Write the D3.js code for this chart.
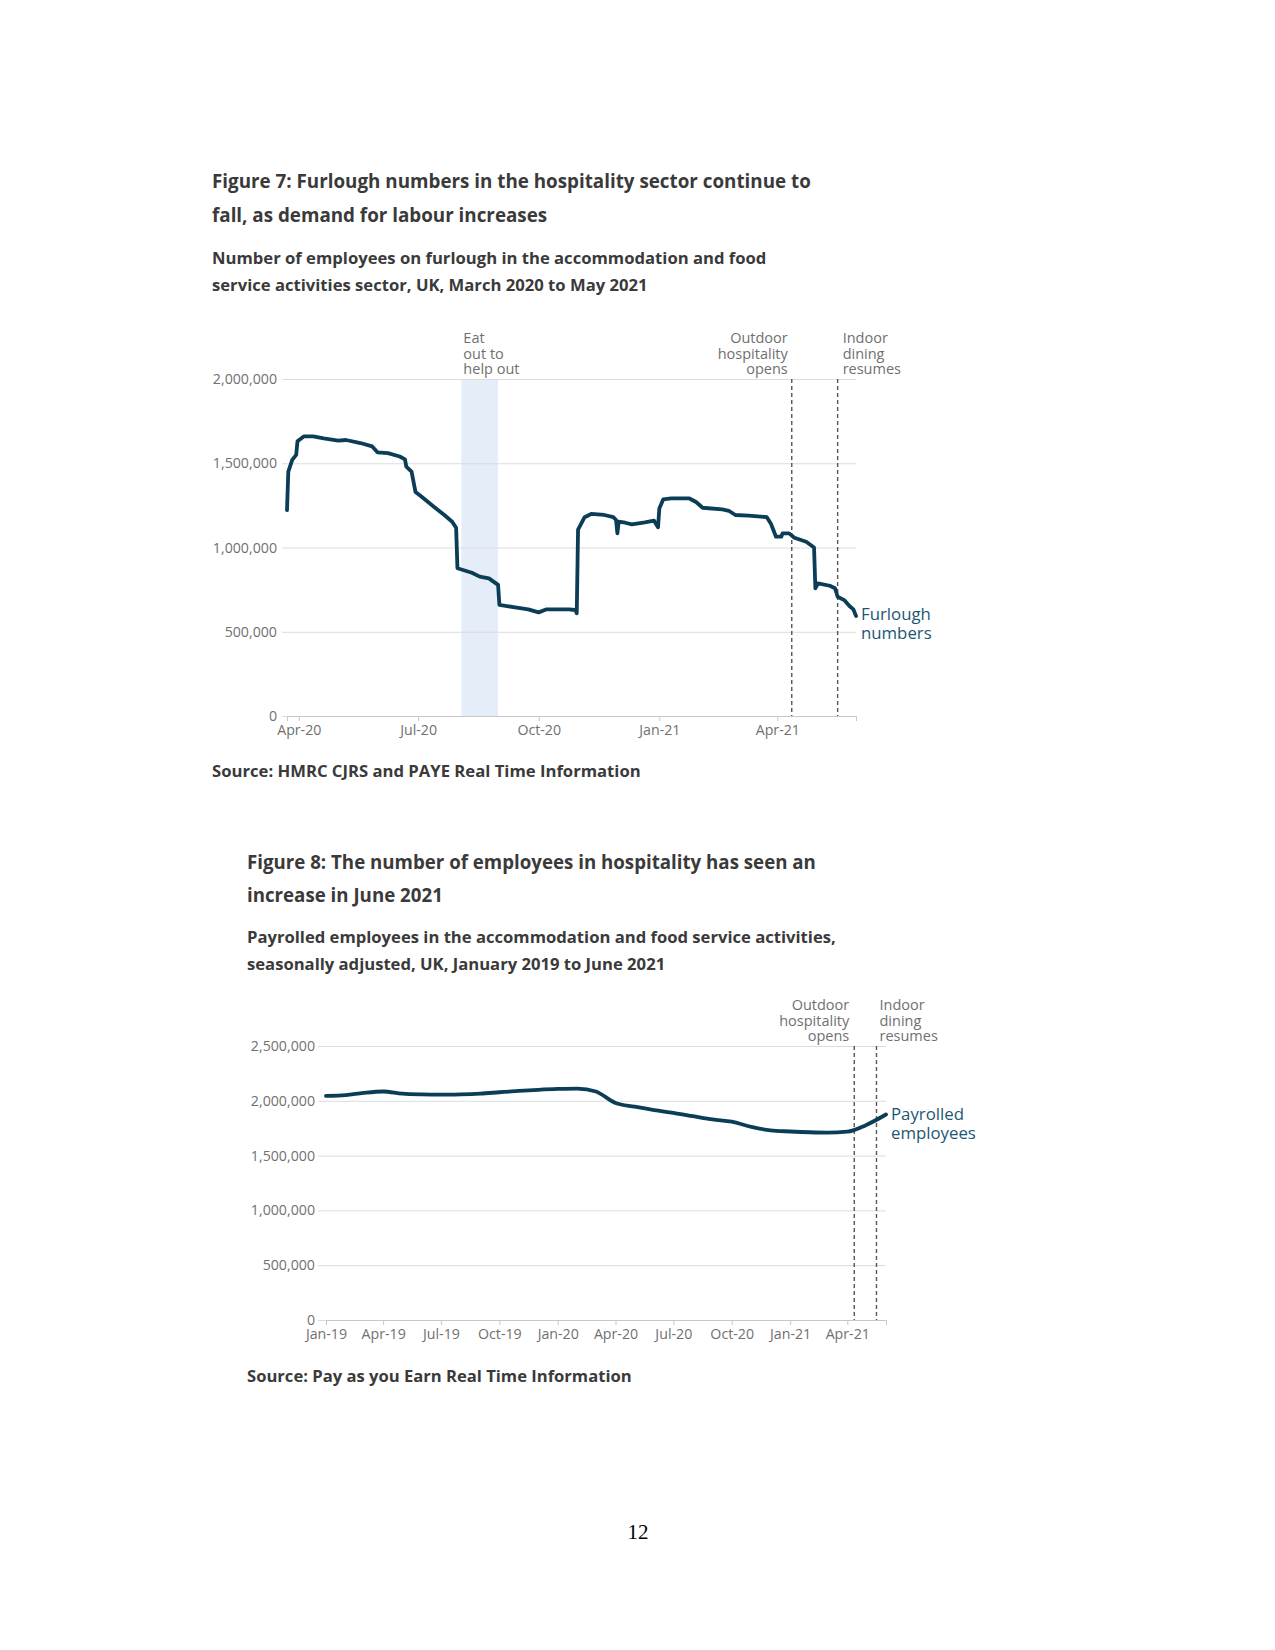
<!DOCTYPE html>
<html><head><meta charset="utf-8">
<script src="https://cdn.jsdelivr.net/npm/d3@7"></script>
<style>body{margin:0;background:#fff} svg{display:block}</style>
</head><body>
<svg id="page" width="1275" height="1650"></svg>
<script>
// ---------------- Figure 7 data ----------------
const furloughDates = ["2020-03-23","2020-03-24","2020-03-27","2020-03-30","2020-03-31","2020-04-05","2020-04-12","2020-04-20","2020-05-01","2020-05-07","2020-05-18","2020-05-27","2020-05-31","2020-06-08","2020-06-17","2020-06-21","2020-06-22","2020-06-26","2020-06-29","2020-07-03","2020-07-13","2020-07-21","2020-07-27","2020-07-30","2020-07-31","2020-08-11","2020-08-17","2020-08-24","2020-08-31","2020-09-01","2020-09-13","2020-09-23","2020-10-01","2020-10-07","2020-10-24","2020-10-29","2020-10-30","2020-10-31","2020-11-03","2020-11-05","2020-11-10","2020-11-20","2020-11-27","2020-11-29","2020-11-30","2020-12-01","2020-12-06","2020-12-11","2020-12-21","2020-12-28","2020-12-31","2021-01-01","2021-01-04","2021-01-10","2021-01-24","2021-01-29","2021-02-03","2021-02-18","2021-02-23","2021-02-28","2021-03-10","2021-03-24","2021-03-27","2021-03-31","2021-04-04","2021-04-05","2021-04-10","2021-04-14","2021-04-23","2021-04-29","2021-04-30","2021-05-02","2021-05-11","2021-05-15","2021-05-17","2021-05-22","2021-05-26","2021-05-29","2021-05-31"];
const furloughValues = [1222000,1450000,1520000,1550000,1630000,1660000,1660000,1648000,1634000,1638000,1620000,1600000,1565000,1560000,1540000,1523000,1480000,1450000,1330000,1306000,1242000,1193000,1153000,1117000,877000,850000,827000,817000,778000,659000,645000,633000,615000,633000,633000,629000,610000,1106000,1150000,1180000,1199000,1193000,1180000,1163000,1084000,1153000,1147000,1137000,1149000,1159000,1120000,1232000,1286000,1291000,1291000,1270000,1236000,1226000,1218000,1193000,1189000,1180000,1143000,1064000,1064000,1084000,1084000,1058000,1034000,1000000,758000,787000,773000,758000,708000,688000,653000,633000,594000];
const furloughDomain = ["2020-03-23","2021-05-31"];
const furloughXTicks = ["2020-04-01","2020-07-01","2020-10-01","2021-01-01","2021-04-01"];
const furloughXTickLabels = ["Apr-20","Jul-20","Oct-20","Jan-21","Apr-21"];
const furloughYTicks = [0,500000,1000000,1500000,2000000];
const eatOutPeriod = ["2020-08-03","2020-08-31"];
const eatOutLabel = ["Eat","out to","help out"];
const eventDates = ["2021-04-12","2021-05-17"];
const eventLabels = [["Outdoor","hospitality","opens"],["Indoor","dining","resumes"]];
const furloughSeriesLabel = ["Furlough","numbers"];

// ---------------- Figure 8 data ----------------
const payrollMonths = ["2019-01","2019-02","2019-03","2019-04","2019-05","2019-06","2019-07","2019-08","2019-09","2019-10","2019-11","2019-12","2020-01","2020-02","2020-03","2020-04","2020-05","2020-06","2020-07","2020-08","2020-09","2020-10","2020-11","2020-12","2021-01","2021-02","2021-03","2021-04","2021-05","2021-06"];
const payrollValues = [2045000,2052000,2072000,2085000,2065000,2058000,2056000,2059000,2066000,2078000,2090000,2100000,2108000,2112000,2085000,1980000,1946000,1915000,1890000,1860000,1830000,1810000,1762000,1730000,1720000,1713000,1710000,1718000,1780000,1875000];
const payrollXTicks = ["2019-01","2019-04","2019-07","2019-10","2020-01","2020-04","2020-07","2020-10","2021-01","2021-04"];
const payrollXTickLabels = ["Jan-19","Apr-19","Jul-19","Oct-19","Jan-20","Apr-20","Jul-20","Oct-20","Jan-21","Apr-21"];
const payrollYTicks = [0,500000,1000000,1500000,2000000,2500000];
const payrollSeriesLabel = ["Payrolled","employees"];

// ---------------- Texts ----------------
const fig7Title = ["Figure 7: Furlough numbers in the hospitality sector continue to","fall, as demand for labour increases"];
const fig7Subtitle = ["Number of employees on furlough in the accommodation and food","service activities sector, UK, March 2020 to May 2021"];
const fig7Source = "Source: HMRC CJRS and PAYE Real Time Information";
const fig8Title = ["Figure 8: The number of employees in hospitality has seen an","increase in June 2021"];
const fig8Subtitle = ["Payrolled employees in the accommodation and food service activities,","seasonally adjusted, UK, January 2019 to June 2021"];
const fig8Source = "Source: Pay as you Earn Real Time Information";
const pageNumber = "12";

// ---------------- Drawing ----------------
const svg = d3.select("#page");
const parseDay = d3.timeParse("%Y-%m-%d");
const parseMonth = d3.timeParse("%Y-%m");
const FONT = "'Open Sans', 'Noto Sans', sans-serif";
const LINE = "#0b3d56";
const GRID = "#dcdcdc";
const TICKTXT = "#707070";
const TXT = "#3a3a3a";
const fmt = d3.format(",");

// text block; if fitWidth is given, font size is chosen so the first line spans that width
function textBlock(lines, x, y, lh, opts) {
  const g = svg.append("text")
    .attr("x", x).attr("y", y)
    .attr("font-family", FONT)
    .attr("font-size", opts.size)
    .attr("font-weight", opts.weight || "normal")
    .attr("fill", opts.fill || TXT)
    .attr("text-anchor", opts.anchor || "start");
  const spans = lines.map((l, i) => g.append("tspan").attr("x", x).attr("y", y + i * lh).text(l));
  if (opts.fitWidth) {
    const w = spans[0].node().getComputedTextLength();
    if (w > 0) g.attr("font-size", opts.size * opts.fitWidth / w);
  }
  return g;
}

function drawChart(cfg) {
  const g = svg.append("g");
  const x = d3.scaleTime().domain(cfg.xDomain).range(cfg.xRange);
  const y = d3.scaleLinear().domain(cfg.yDomain).range(cfg.yRange);

  if (cfg.band) {
    g.append("rect")
      .attr("x", x(cfg.band[0])).attr("width", x(cfg.band[1]) - x(cfg.band[0]))
      .attr("y", y(cfg.yDomain[1])).attr("height", y(0) - y(cfg.yDomain[1]))
      .attr("fill", "#e4edf8");
  }

  const yAxis = d3.axisLeft(y).tickValues(cfg.yTicks).tickFormat(fmt)
    .tickSize(-(cfg.gridRight - cfg.gridLeft)).tickPadding(cfg.yPad);
  const ya = g.append("g").attr("transform", `translate(${cfg.gridLeft},0)`).call(yAxis);
  ya.select(".domain").remove();
  ya.selectAll(".tick line").attr("stroke", GRID).attr("stroke-width", 1);
  ya.selectAll(".tick text").attr("fill", TICKTXT).attr("font-family", FONT).attr("font-size", 14.2);

  const xAxis = d3.axisBottom(x).tickValues(cfg.xTicks)
    .tickFormat((d, i) => cfg.xTickLabels[i]).tickSize(5).tickSizeOuter(5).tickPadding(4);
  const xa = g.append("g").attr("transform", `translate(0,${y(0)})`).call(xAxis);
  xa.select(".domain").attr("stroke", "#c8c8c8");
  xa.selectAll(".tick line").attr("stroke", "#c8c8c8");
  xa.selectAll(".tick text").attr("fill", TICKTXT).attr("font-family", FONT).attr("font-size", 14.2);

  cfg.events.forEach(d => {
    g.append("line").attr("x1", x(d)).attr("x2", x(d))
      .attr("y1", y(cfg.yDomain[1])).attr("y2", y(0))
      .attr("stroke", "#555").attr("stroke-width", 1.4).attr("stroke-dasharray", "4,3");
  });

  const line = d3.line().x(d => x(d[0])).y(d => y(d[1])).curve(cfg.curve);
  g.append("path").datum(cfg.data).attr("d", line)
    .attr("fill", "none").attr("stroke", LINE).attr("stroke-width", 3.8)
    .attr("stroke-linejoin", "round").attr("stroke-linecap", "round");
  return {x, y};
}

// Figure 7
textBlock(fig7Title, 212, 188, 33.5, {size: 18, weight: "bold", fitWidth: 599});
textBlock(fig7Subtitle, 212, 264, 26.5, {size: 14, weight: "bold", fitWidth: 555});
const c1 = drawChart({
  xDomain: furloughDomain.map(parseDay), xRange: [287, 856],
  yDomain: [0, 2000000], yRange: [716, 379],
  gridLeft: 282, gridRight: 856, yPad: 5,
  yTicks: furloughYTicks,
  xTicks: furloughXTicks.map(parseDay), xTickLabels: furloughXTickLabels,
  band: eatOutPeriod.map(parseDay),
  events: eventDates.map(parseDay),
  data: furloughDates.map((d, i) => [parseDay(d), furloughValues[i]]),
  curve: d3.curveLinear
});
textBlock(eatOutLabel, c1.x(parseDay(eatOutPeriod[0])) + 2, 343, 15.5, {size: 14.5, fill: TICKTXT});
textBlock(eventLabels[0], c1.x(parseDay(eventDates[0])) - 4, 343, 15.5, {size: 14.5, fill: TICKTXT, anchor: "end"});
textBlock(eventLabels[1], c1.x(parseDay(eventDates[1])) + 5, 343, 15.5, {size: 14.5, fill: TICKTXT});
textBlock(furloughSeriesLabel, 861, 620, 18.5, {size: 16.8, fill: "#1d5673"});
textBlock([fig7Source], 212, 777, 0, {size: 14, weight: "bold", fitWidth: 429});

// Figure 8
textBlock(fig8Title, 247, 869, 33, {size: 18, weight: "bold", fitWidth: 569});
textBlock(fig8Subtitle, 247, 943, 26.5, {size: 14, weight: "bold", fitWidth: 589});
const c2 = drawChart({
  xDomain: [parseMonth("2019-01"), parseMonth("2021-06")], xRange: [326, 886],
  yDomain: [0, 2500000], yRange: [1320, 1046],
  gridLeft: 318, gridRight: 886, yPad: 3,
  yTicks: payrollYTicks,
  xTicks: payrollXTicks.map(parseMonth), xTickLabels: payrollXTickLabels,
  band: null,
  events: eventDates.map(parseDay),
  data: payrollMonths.map((d, i) => [parseMonth(d), payrollValues[i]]),
  curve: d3.curveMonotoneX
});
textBlock(eventLabels[0], c2.x(parseDay(eventDates[0])) - 5, 1010, 15.5, {size: 14.5, fill: TICKTXT, anchor: "end"});
textBlock(eventLabels[1], c2.x(parseDay(eventDates[1])) + 3, 1010, 15.5, {size: 14.5, fill: TICKTXT});
textBlock(payrollSeriesLabel, 891, 1120, 18.5, {size: 16.8, fill: "#1d5673"});
textBlock([fig8Source], 247, 1382, 0, {size: 14, weight: "bold", fitWidth: 385});

// page number
svg.append("text").attr("x", 638).attr("y", 1539).attr("text-anchor", "middle")
  .attr("font-family", "'Liberation Serif', 'Times New Roman', serif").attr("font-size", 21)
  .attr("fill", "#000").text(pageNumber);
</script>
</body></html>
